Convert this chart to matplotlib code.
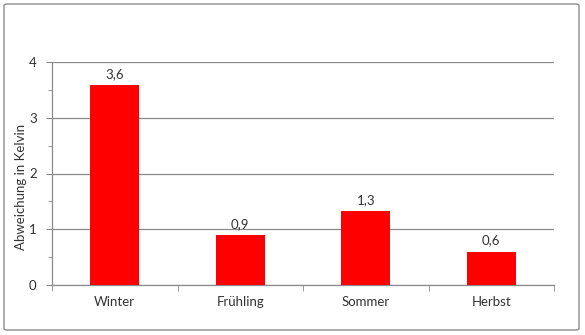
import matplotlib
matplotlib.use("Agg")
import matplotlib.pyplot as plt
from matplotlib.patches import FancyBboxPatch
from matplotlib.ticker import MultipleLocator

categories = ["Winter", "Frühling", "Sommer", "Herbst"]
values = [3.58, 0.9, 1.33, 0.6]
labels = ["3,6", "0,9", "1,3", "0,6"]
yticks = [0, 1, 2, 3, 4]

plt.rcParams['font.family'] = ['Lato', 'DejaVu Sans']

W, H = 585, 335
fig = plt.figure(figsize=(W/100, H/100), dpi=100)
fig.patch.set_facecolor('white')

# outer border
border = FancyBboxPatch((4/W, 5/H), 575/W, 326/H,
                        boxstyle="round,pad=0,rounding_size=0.005",
                        transform=fig.transFigure, fill=False,
                        edgecolor='#8c8c8c', linewidth=1.0)
fig.patches.append(border)

left, right, top, bottom = 52, 554, 62, 285
ax = fig.add_axes([left/W, 1 - bottom/H, (right-left)/W, (bottom-top)/H])

txt = '#333333'
fs = 9.5
x = range(len(categories))
ax.bar(x, values, width=0.39, color='#ff0000', zorder=3)
for xi, v, lab in zip(x, values, labels):
    ax.text(xi, v + 0.09, lab, ha='center', va='bottom', fontsize=fs, color=txt)

ax.set_xlim(-0.5, len(categories) - 0.5)
ax.set_ylim(0, 4)
ax.set_yticks(yticks)
ax.set_yticklabels([str(t) for t in yticks])
ax.yaxis.set_minor_locator(MultipleLocator(0.5))
ax.grid(axis='y', color='#8a8a8a', linewidth=0.9, zorder=0)

ax.set_xticks(list(x))
ax.set_xticklabels(categories)
ax.set_xticks([i - 0.5 for i in range(len(categories) + 1)], minor=True)
ax.tick_params(axis='x', which='major', length=0, pad=8, labelsize=fs, colors=txt)
ax.tick_params(axis='x', which='minor', length=4, color='#8a8a8a', direction='out')
ax.tick_params(axis='y', which='major', length=4, color='#8a8a8a', direction='out', pad=7, labelsize=fs, labelcolor=txt)
ax.tick_params(axis='y', which='minor', length=3, color='#8a8a8a', direction='out')

for s in ['top', 'right']:
    ax.spines[s].set_visible(False)
for s in ['left', 'bottom']:
    ax.spines[s].set_color('#8a8a8a')
    ax.spines[s].set_linewidth(0.9)

ax.set_ylabel("Abweichung in Kelvin", fontsize=fs, color=txt)
ax.yaxis.set_label_coords(-0.049, 0.44)

fig.savefig("out.png", dpi=100, facecolor='white')
